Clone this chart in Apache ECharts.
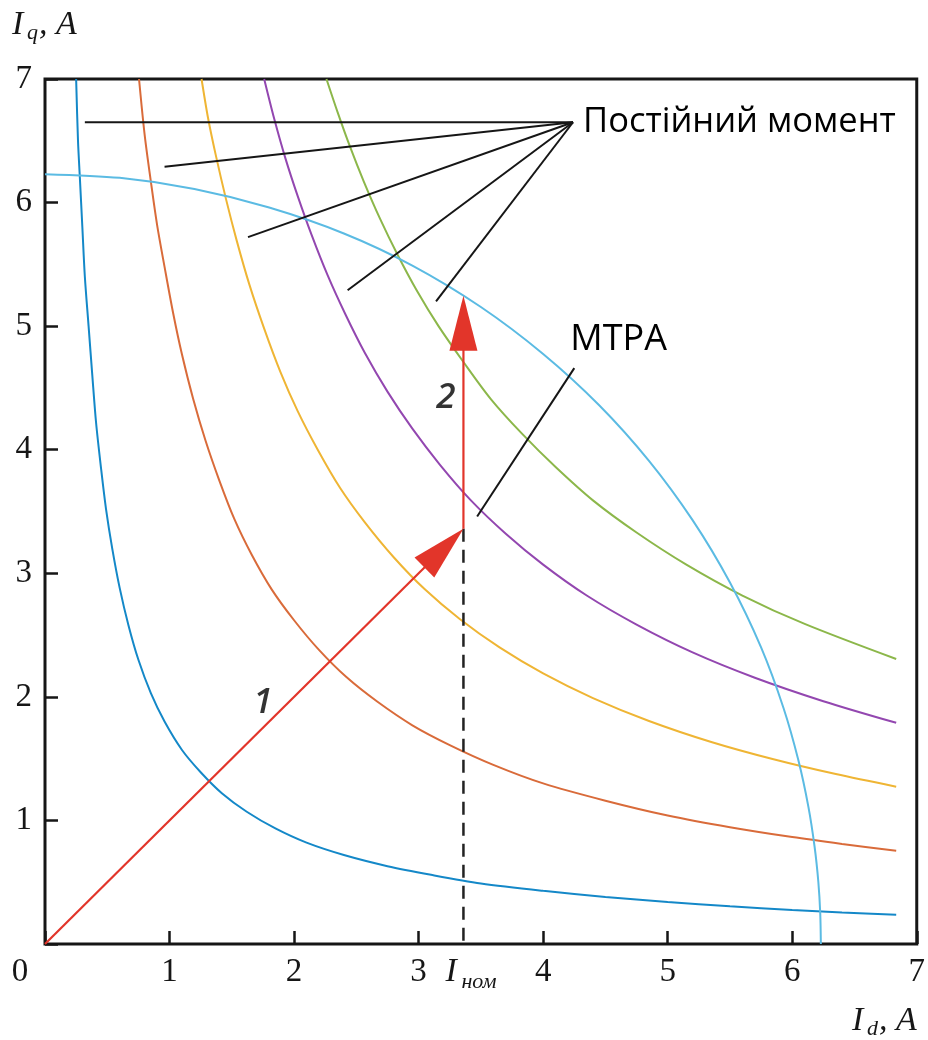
<!DOCTYPE html>
<html>
<head>
<meta charset="utf-8">
<script src="https://cdn.jsdelivr.net/npm/echarts@6/dist/echarts.min.js"></script>
<style>
  html, body { margin: 0; padding: 0; background: #ffffff; }
  #chart { width: 928px; height: 1040px; }
</style>
</head>
<body>
<div id="chart"></div>
<script>
// Constant-torque curves, [Id, Iq] in amperes
const torqueT1 = [[0.25,7.0],[0.265,6.5],[0.28,6.2],[0.30,5.8],[0.32,5.4],[0.35,5.0],[0.38,4.6],[0.41,4.22],[0.45,3.85],[0.49,3.52],[0.54,3.2],[0.60,2.88],[0.67,2.58],[0.75,2.3],[0.85,2.03],[0.96,1.8],[1.1,1.57],[1.25,1.39],[1.42,1.22],[1.62,1.07],[1.85,0.935],[2.1,0.82],[2.4,0.72],[2.75,0.63],[3.1,0.56],[3.5,0.49],[4.0,0.43],[4.5,0.38],[5.0,0.34],[5.5,0.305],[6.0,0.275],[6.4,0.255],[6.835,0.237]];
const torqueT2 = [[0.755,7.0],[0.80,6.55],[0.85,6.17],[0.90,5.82],[0.96,5.48],[1.03,5.1],[1.1,4.77],[1.19,4.41],[1.29,4.07],[1.4,3.75],[1.52,3.44],[1.66,3.15],[1.82,2.87],[2.0,2.62],[2.2,2.38],[2.42,2.16],[2.67,1.96],[2.95,1.77],[3.25,1.61],[3.6,1.45],[4.0,1.3],[4.5,1.16],[5.0,1.04],[5.5,0.945],[6.0,0.865],[6.4,0.81],[6.835,0.755]];
const torqueT3 = [[1.257,7.0],[1.31,6.68],[1.37,6.39],[1.453,6.03],[1.54,5.69],[1.64,5.34],[1.76,4.98],[1.89,4.63],[2.03,4.31],[2.19,4.0],[2.37,3.69],[2.57,3.41],[2.8,3.13],[3.05,2.87],[3.33,2.63],[3.65,2.4],[4.0,2.19],[4.4,1.99],[4.85,1.805],[5.35,1.635],[5.85,1.495],[6.35,1.375],[6.835,1.273]];
const torqueT4 = [[1.76,7.0],[1.84,6.68],[1.93,6.36],[2.03,6.05],[2.14,5.74],[2.27,5.41],[2.41,5.1],[2.57,4.78],[2.75,4.47],[2.95,4.17],[3.17,3.88],[3.42,3.59],[3.7,3.32],[4.0,3.07],[4.35,2.82],[4.75,2.585],[5.2,2.36],[5.7,2.155],[6.25,1.965],[6.835,1.79]];
const torqueT5 = [[2.26,7.0],[2.35,6.73],[2.45,6.45],[2.56,6.17],[2.69,5.87],[2.83,5.58],[2.99,5.28],[3.16,5.0],[3.36,4.71],[3.58,4.41],[3.83,4.13],[4.1,3.86],[4.4,3.59],[4.75,3.33],[5.15,3.07],[5.6,2.82],[6.1,2.59],[6.835,2.306]];

// Current-limit circle
const currentLimit = [[0,6.23],[0.6,6.2],[1.2,6.11],[1.8,5.96],[2.4,5.75],[2.95,5.49],[3.5,5.155],[4.0,4.775],[4.45,4.36],[4.85,3.91],[5.2,3.43],[5.5,2.925],[5.75,2.4],[5.93,1.91],[6.05,1.485],[6.13,1.11],[6.18,0.785],[6.21,0.5],[6.225,0.25],[6.23,0]];

// Rated current and the two control trajectories
const iNom = 3.36;
const trajectory1 = [[0, 0], [iNom, iNom]];
const trajectory2 = [[iNom, iNom], [iNom, 5.245]];

// Leader lines for the annotations
const torqueLeaderHub = [4.24, 6.65];
const torqueLeaderEnds = [[0.32,6.65],[0.96,6.29],[1.63,5.72],[2.43,5.29],[3.14,5.2]];
const mtpaLeader = [[4.25,4.66],[3.47,3.46]];

// Trajectory number positions
const trajectoryLabels = [['1', 1.75, 1.95], ['2', 3.22, 4.42]];

const axisTicks = [0, 1, 2, 3, 4, 5, 6, 7];

const curveColors = ['#1488c8', '#d96b3a', '#efb534', '#9347b0', '#8cb74a'];
const circleColor = '#5bbbe3';
const RED = '#e2352a';
const INK = '#161616';

const chart = echarts.init(document.getElementById('chart'));

function segmentSeries(rows, color, width) {
  return {
    type: 'custom',
    coordinateSystem: 'cartesian2d',
    data: rows,
    encode: { x: [0, 2], y: [1, 3] },
    silent: true,
    z: 4,
    renderItem: function (params, api) {
      const a = api.coord([api.value(0), api.value(1)]);
      const b = api.coord([api.value(2), api.value(3)]);
      return {
        type: 'line',
        shape: { x1: a[0], y1: a[1], x2: b[0], y2: b[1] },
        style: { stroke: color, lineWidth: width }
      };
    }
  };
}

const arrowRows = [trajectory1, trajectory2].map(t => [t[0][0], t[0][1], t[1][0], t[1][1]]);

const curveSeries = [torqueT1, torqueT2, torqueT3, torqueT4, torqueT5].map((d, i) => ({
  type: 'line',
  data: d,
  symbol: 'none',
  smooth: 0.3,
  lineStyle: { color: curveColors[i], width: 2 },
  z: 2
}));

const tickLabel = {
  margin: 13, fontFamily: 'Liberation Serif', fontSize: 33, color: INK,
  showMinLabel: true, showMaxLabel: true,
  formatter: v => (v === axisTicks[0] ? '' : String(v))
};

const option = {
  animation: false,
  grid: {
    left: 45, right: 11, top: 79, bottom: 96,
    show: true, borderColor: INK, borderWidth: 3,
    backgroundColor: 'rgba(0,0,0,0)'
  },
  xAxis: {
    type: 'value', min: 0, max: 7, interval: 1,
    axisLine: { show: false },
    splitLine: { show: false },
    axisTick: { inside: true, length: 13, lineStyle: { color: INK, width: 2.5 } },
    axisLabel: Object.assign({}, tickLabel, { margin: 12 })
  },
  yAxis: {
    type: 'value', min: 0, max: 7, interval: 1,
    axisLine: { show: false },
    splitLine: { show: false },
    axisTick: { inside: true, length: 13, lineStyle: { color: INK, width: 2.5 } },
    axisLabel: tickLabel
  },
  series: [
    ...curveSeries,
    {
      type: 'line',
      data: currentLimit,
      symbol: 'none',
      smooth: 0.3,
      lineStyle: { color: circleColor, width: 2 },
      z: 3
    },
    // dashed drop line at the rated current
    {
      type: 'line',
      data: [[iNom, iNom], [iNom, 0]],
      symbol: 'none',
      lineStyle: { color: '#222', width: 2.5, type: [13, 8] },
      z: 4
    },
    segmentSeries(torqueLeaderEnds.map(e => [torqueLeaderHub[0], torqueLeaderHub[1], e[0], e[1]]), INK, 2),
    segmentSeries([[mtpaLeader[0][0], mtpaLeader[0][1], mtpaLeader[1][0], mtpaLeader[1][1]]], INK, 2),
    // trajectory arrows
    {
      type: 'custom',
      coordinateSystem: 'cartesian2d',
      data: arrowRows,
      encode: { x: [0, 2], y: [1, 3] },
      silent: true,
      z: 6,
      renderItem: function (params, api) {
        const p0 = api.coord([api.value(0), api.value(1)]);
        const p1 = api.coord([api.value(2), api.value(3)]);
        const dx = p1[0] - p0[0], dy = p1[1] - p0[1];
        const len = Math.hypot(dx, dy);
        const ux = dx / len, uy = dy / len;
        const headLen = 55, halfW = 14;
        const bx = p1[0] - ux * headLen, by = p1[1] - uy * headLen;
        return {
          type: 'group',
          children: [
            {
              type: 'line',
              shape: { x1: p0[0], y1: p0[1], x2: bx + ux * 4, y2: by + uy * 4 },
              style: { stroke: RED, lineWidth: 2.2 }
            },
            {
              type: 'polygon',
              shape: { points: [[p1[0], p1[1]], [bx - uy * halfW, by + ux * halfW], [bx + uy * halfW, by - ux * halfW]] },
              style: { fill: RED }
            }
          ]
        };
      }
    },
    // trajectory numbers
    {
      type: 'scatter',
      data: trajectoryLabels.map(t => [t[1], t[2], t[0]]),
      symbolSize: 0,
      silent: true,
      z: 7,
      label: {
        show: true, position: 'inside',
        formatter: p => p.value[2],
        fontFamily: 'Open Sans', fontStyle: 'italic', fontWeight: 600, fontSize: 35, color: '#000'
      }
    }
  ]
};

chart.setOption(option);

// Text placed relative to the data coordinates
const toPx = p => chart.convertToPixel({ gridIndex: 0 }, p);
const hubPx = toPx(torqueLeaderHub);
const mtpaPx = toPx(mtpaLeader[0]);
const nomPx = toPx([iNom, 0]);
const originPx = toPx([0, 0]);

const serifItalic = 'italic 34px "Liberation Serif"';
const serifItalicSub = 'italic 22px "Liberation Serif"';

chart.setOption({
  graphic: [
    { type: 'text', x: hubPx[0] + 10, y: hubPx[1], style: { text: 'Постійний момент', font: '34.5px "Open Sans"', fill: '#000', verticalAlign: 'middle', align: 'left' } },
    { type: 'text', x: mtpaPx[0] - 4, y: mtpaPx[1] - 28, style: { text: 'MTPA', font: '36px "Open Sans"', fill: '#000', verticalAlign: 'middle', align: 'left' } },
    // origin label
    { type: 'text', x: originPx[0] - 25, y: originPx[1] + 28, style: { text: '0', font: '33px "Liberation Serif"', fill: INK, verticalAlign: 'middle', align: 'center' } },
    // rated-current label under the axis
    { type: 'text', x: nomPx[0] - 18, y: nomPx[1] + 28, style: { text: 'I', font: serifItalic, fill: INK, verticalAlign: 'middle', align: 'left' } },
    { type: 'text', x: nomPx[0] - 2, y: nomPx[1] + 38, style: { text: 'ном', font: serifItalicSub, fill: INK, verticalAlign: 'middle', align: 'left' } },
    // vertical axis title
    { type: 'text', x: 12, y: 25, style: { text: 'I', font: serifItalic, fill: INK, verticalAlign: 'middle', align: 'left' } },
    { type: 'text', x: 27, y: 33, style: { text: 'q', font: serifItalicSub, fill: INK, verticalAlign: 'middle', align: 'left' } },
    { type: 'text', x: 39, y: 25, style: { text: ', A', font: serifItalic, fill: INK, verticalAlign: 'middle', align: 'left' } },
    // horizontal axis title
    { type: 'text', x: 852, y: 1021, style: { text: 'I', font: serifItalic, fill: INK, verticalAlign: 'middle', align: 'left' } },
    { type: 'text', x: 867, y: 1029, style: { text: 'd', font: serifItalicSub, fill: INK, verticalAlign: 'middle', align: 'left' } },
    { type: 'text', x: 879, y: 1021, style: { text: ', A', font: serifItalic, fill: INK, verticalAlign: 'middle', align: 'left' } }
  ]
});
</script>
</body>
</html>
